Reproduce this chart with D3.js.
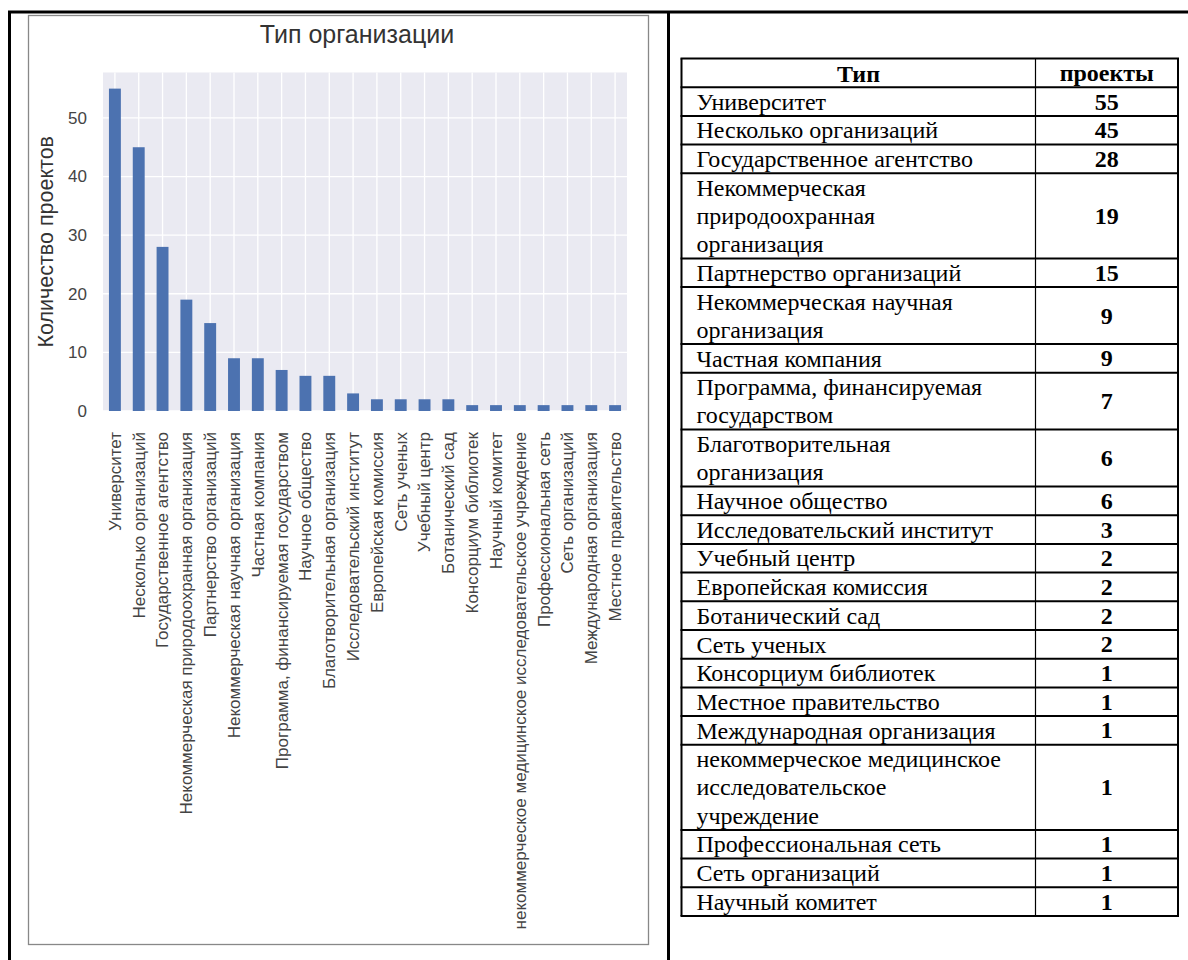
<!DOCTYPE html>
<html>
<head>
<meta charset="utf-8">
<script src="https://cdn.jsdelivr.net/npm/d3@7"></script>
<style>
  body { margin: 0; background: #fff; }
  svg { display: block; }
</style>
</head>
<body>
<svg width="1188" height="960"></svg>
<script>
// данные диаграммы (порядок как на графике)
var categories = [
  "Университет", "Несколько организаций", "Государственное агентство",
  "Некоммерческая природоохранная организация", "Партнерство организаций",
  "Некоммерческая научная организация", "Частная компания",
  "Программа, финансируемая государством", "Научное общество",
  "Благотворительная организация", "Исследовательский институт",
  "Европейская комиссия", "Сеть ученых", "Учебный центр", "Ботанический сад",
  "Консорциум библиотек", "Научный комитет",
  "некоммерческое медицинское исследовательское учреждение",
  "Профессиональная сеть", "Сеть организаций", "Международная организация",
  "Местное правительство"
];
var counts = [55, 45, 28, 19, 15, 9, 9, 7, 6, 6, 3, 2, 2, 2, 2, 1, 1, 1, 1, 1, 1, 1];
var yTicks = [0, 10, 20, 30, 40, 50];

// данные таблицы (строки с переносами как в документе)
var tableHeader = ["Тип", "проекты"];
var tableTypes = [
  "Университет", "Несколько организаций", "Государственное агентство",
  "Некоммерческая\nприродоохранная\nорганизация", "Партнерство организаций",
  "Некоммерческая научная\nорганизация", "Частная компания",
  "Программа, финансируемая\nгосударством", "Благотворительная\nорганизация",
  "Научное общество", "Исследовательский институт", "Учебный центр",
  "Европейская комиссия", "Ботанический сад", "Сеть ученых",
  "Консорциум библиотек", "Местное правительство", "Международная организация",
  "некоммерческое медицинское\nисследовательское\nучреждение",
  "Профессиональная сеть", "Сеть организаций", "Научный комитет"
];
var tableProjects = [55, 45, 28, 19, 15, 9, 9, 7, 6, 6, 3, 2, 2, 2, 2, 1, 1, 1, 1, 1, 1, 1];

var svg = d3.select("svg");

//рамка документа
var frame = svg.append("g").attr("stroke", "#000").attr("stroke-width", 3);
frame.append("line").attr("x1", 8).attr("y1", 12).attr("x2", 1188).attr("y2", 12);
frame.append("line").attr("x1", 9.5).attr("y1", 12).attr("x2", 9.5).attr("y2", 960);
frame.append("line").attr("x1", 668.5).attr("y1", 12).attr("x2", 668.5).attr("y2", 960);

// ---------- диаграмма ----------
var chart = svg.append("g").attr("font-family", "'Liberation Sans', Arial, sans-serif");

chart.append("rect")
  .attr("x", 28.5).attr("y", 15.5)
  .attr("width", 620).attr("height", 929)
  .attr("fill", "#fff")
  .attr("stroke", "#888")
  .attr("stroke-width", 1.3);

var plot = {left: 103, right: 627, top: 72.5, bottom: 411};

var x = d3.scaleBand()
  .domain(categories)
  .range([plot.left, plot.right])
  .paddingInner(0.5)
  .paddingOuter(0.25);

var y = d3.scaleLinear()
  .domain([0, 57.75])
  .range([plot.bottom, plot.top]);

chart.append("rect")
  .attr("x", plot.left).attr("y", plot.top)
  .attr("width", plot.right - plot.left)
  .attr("height", plot.bottom - plot.top)
  .attr("fill", "#eaeaf2");

//сетка
chart.selectAll(".hgrid")
  .data(yTicks)
  .enter()
  .append("line")
  .attr("x1", plot.left).attr("x2", plot.right)
  .attr("y1", d => y(d)).attr("y2", d => y(d))
  .attr("stroke", "#fff")
  .attr("stroke-width", 1.3);

chart.selectAll(".vgrid")
  .data(categories)
  .enter()
  .append("line")
  .attr("x1", d => x(d) + x.bandwidth() / 2)
  .attr("x2", d => x(d) + x.bandwidth() / 2)
  .attr("y1", plot.top).attr("y2", plot.bottom)
  .attr("stroke", "#fff")
  .attr("stroke-width", 1.3);

//столбцы
chart.selectAll(".bar")
  .data(categories)
  .enter()
  .append("rect")
  .attr("x", d => x(d))
  .attr("y", (d, i) => y(counts[i]))
  .attr("width", x.bandwidth())
  .attr("height", (d, i) => y(0) - y(counts[i]))
  .attr("fill", "#4c72b0");

//ось Y
var yAxis = chart.append("g")
  .attr("transform", `translate(${plot.left},0)`)
  .call(d3.axisLeft(y).tickValues(yTicks).tickSize(0).tickPadding(16));
yAxis.select(".domain").remove();
yAxis.selectAll("text")
  .attr("font-size", 17)
  .attr("font-family", "'Liberation Sans', Arial, sans-serif")
  .attr("fill", "#444");

//ось X
var xAxis = chart.append("g")
  .attr("transform", `translate(0,${plot.bottom})`)
  .call(d3.axisBottom(x).tickSize(0).tickPadding(0));
xAxis.select(".domain").remove();
xAxis.selectAll("text")
  .attr("font-size", 17)
  .attr("font-family", "'Liberation Sans', Arial, sans-serif")
  .attr("fill", "#444")
  .attr("text-anchor", "end")
  .attr("dy", "0.35em")
  .attr("transform", "translate(0,21) rotate(-90)")
  .attr("y", 0);

//подписи
chart.append("text")
  .attr("transform", `translate(53,${(plot.top + plot.bottom) / 2}) rotate(-90)`)
  .attr("text-anchor", "middle")
  .attr("font-size", 21.5)
  .attr("fill", "#333")
  .text("Количество проектов");

chart.append("text")
  .attr("x", 357).attr("y", 43)
  .attr("text-anchor", "middle")
  .attr("font-size", 25)
  .attr("fill", "#333")
  .text("Тип организации");

// ---------- таблица ----------
var table = svg.append("g").attr("font-family", "'Liberation Serif', 'Times New Roman', serif");
var tLeft = 681.5, tMid = 1035.5, tRight = 1178, tTop = 58.5;
var lineH = 28.2;

var rows = [{lines: [tableHeader[0]], val: tableHeader[1], header: true}]
  .concat(tableTypes.map((t, i) => ({lines: t.split("\n"), val: tableProjects[i], header: false})));

var yPos = tTop;
rows.forEach(r => {
  r.y0 = yPos;
  r.h = r.lines.length * lineH + 0.5;
  yPos += r.h;
});
var tBottom = yPos;

var rowG = table.selectAll(".row")
  .data(rows)
  .enter()
  .append("g")
  .attr("transform", d => `translate(0,${d.y0})`);

rowG.each(function(d) {
  var g = d3.select(this);
  if (d.header) {
    g.append("text")
      .attr("x", (tLeft + tMid) / 2).attr("y", 23)
      .attr("text-anchor", "middle")
      .attr("font-weight", "bold")
      .attr("font-size", 24)
      .text(d.lines[0]);
  } else {
    g.selectAll("text.t")
      .data(d.lines)
      .enter()
      .append("text")
      .attr("x", tLeft + 15)
      .attr("y", (l, i) => 22.5 + i * lineH)
      .attr("font-size", 24)
      .text(l => l);
  }
  g.append("text")
    .attr("x", (tMid + tRight) / 2)
    .attr("y", d.h / 2 + 8)
    .attr("text-anchor", "middle")
    .attr("font-weight", "bold")
    .attr("font-size", 24)
    .text(d.val);
});

//линии таблицы
table.selectAll(".hline")
  .data(rows.map(r => r.y0).concat([tBottom]))
  .enter()
  .append("line")
  .attr("x1", tLeft - 1).attr("x2", tRight + 1)
  .attr("y1", d => d).attr("y2", d => d)
  .attr("stroke", "#000")
  .attr("stroke-width", 2);

table.append("line")
  .attr("x1", tLeft).attr("x2", tLeft).attr("y1", tTop).attr("y2", tBottom)
  .attr("stroke", "#000").attr("stroke-width", 2);
table.append("line")
  .attr("x1", tRight).attr("x2", tRight).attr("y1", tTop).attr("y2", tBottom)
  .attr("stroke", "#000").attr("stroke-width", 2);
table.append("line")
  .attr("x1", tMid).attr("x2", tMid).attr("y1", tTop).attr("y2", tBottom)
  .attr("stroke", "#000").attr("stroke-width", 1.2);
</script>
</body>
</html>
